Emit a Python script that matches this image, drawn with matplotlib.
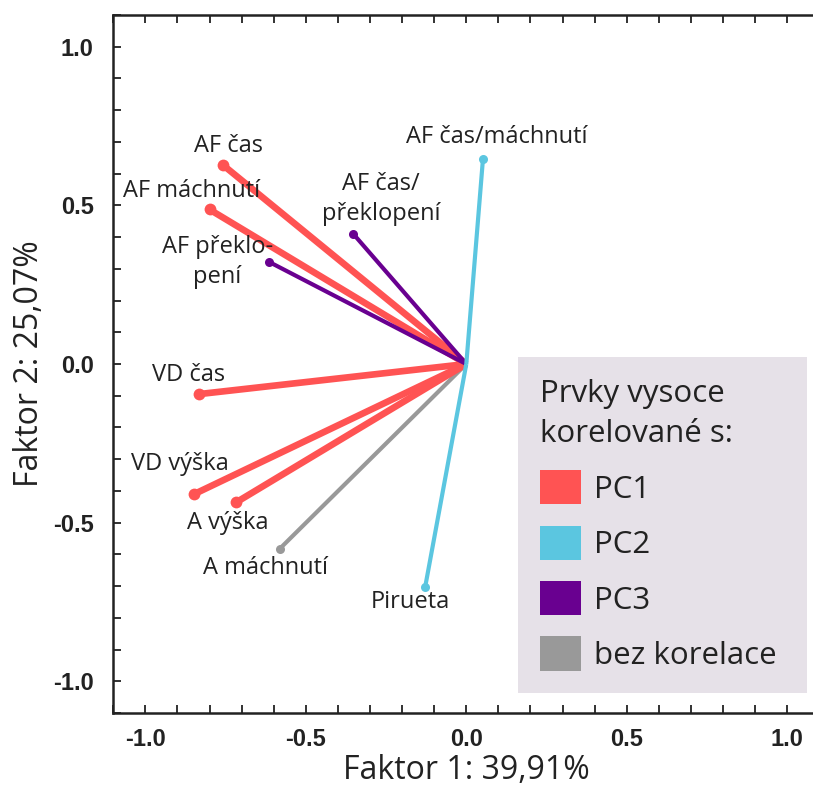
import matplotlib
matplotlib.use("Agg")
import matplotlib.pyplot as plt
from matplotlib.patches import Patch
from matplotlib.ticker import MultipleLocator

plt.rcParams["axes.unicode_minus"] = False

# ---- data ----
names = ["AF čas", "AF máchnutí", "AF překlo-\npení", "AF čas/\npřeklopení",
         "AF čas/máchnutí", "VD čas", "VD výška", "A výška", "A máchnutí", "Pirueta"]
factor1 = [-0.758, -0.800, -0.615, -0.353, 0.052, -0.834, -0.850, -0.717, -0.582, -0.128]
factor2 = [0.627, 0.487, 0.322, 0.411, 0.647, -0.095, -0.411, -0.436, -0.583, -0.702]
group = ["PC1", "PC1", "PC3", "PC3", "PC2", "PC1", "PC1", "PC1", "bez korelace", "PC2"]
legend_groups = ["PC1", "PC2", "PC3", "bez korelace"]
legend_title = "Prvky vysoce\nkorelované s:"
xlabel = "Faktor 1: 39,91%"
ylabel = "Faktor 2: 25,07%"

# ---- styles ----
colors = {"PC1": "#ff5353", "PC2": "#5bc6e0", "PC3": "#690090", "bez korelace": "#999999"}
lws = {"PC1": 4.8, "PC2": 3.0, "PC3": 3.0, "bez korelace": 3.0}
msz = {"PC1": 8.5, "PC2": 6.5, "PC3": 6.5, "bez korelace": 6.5}
label_offsets = [(4, 13.5), (-13, 13), (-37, 0), (20, 25), (10, 16),
                 (-7, 14), (-10, 22), (-6, -15), (-10, -14), (-11, -11)]
zorders = {"PC1": 2, "PC2": 4, "PC3": 3, "bez korelace": 1}

fig = plt.figure(figsize=(8.13, 7.88), dpi=100)
ax = fig.add_axes([113.3 / 813, 75 / 788, 706 / 813, 698 / 788])

for n, x, y, g, off in zip(names, factor1, factor2, group, label_offsets):
    ax.plot([0, x], [0, y], color=colors[g], lw=lws[g], solid_capstyle="butt",
            zorder=zorders[g])
    ax.plot([x], [y], marker="o", ms=msz[g], color=colors[g], mec="none",
            zorder=zorders[g])
    ax.annotate(n, (x, y), xytext=off, textcoords="offset points",
                ha="center", va="center", fontsize=17, family="Open Sans",
                color="#222222", linespacing=1.35, zorder=6)

ax.set_xlim(-1.1, 1.1)
ax.set_ylim(-1.1, 1.1)
ax.xaxis.set_major_locator(MultipleLocator(0.5))
ax.yaxis.set_major_locator(MultipleLocator(0.5))
ax.xaxis.set_minor_locator(MultipleLocator(0.1))
ax.yaxis.set_minor_locator(MultipleLocator(0.1))
ax.tick_params(which="both", direction="in", length=6, width=1.3, color="#222222",
               top=True, right=False)
ax.tick_params(axis="x", which="major", pad=11)
ax.tick_params(axis="y", which="major", pad=14)
for s in ax.spines.values():
    s.set_linewidth(1.8)
    s.set_color("#222222")
ax.spines["right"].set_visible(False)

for lbl in ax.get_xticklabels() + ax.get_yticklabels():
    lbl.set_fontfamily("Liberation Sans")
    lbl.set_fontweight("bold")
    lbl.set_fontsize(17)
    lbl.set_color("#222222")

ax.set_xlabel(xlabel, fontsize=23, family="Open Sans", color="#222222", labelpad=2)
ax.set_ylabel(ylabel, fontsize=23, family="Open Sans", color="#222222", labelpad=5)

handles = [Patch(facecolor=colors[g], edgecolor="none", label=g) for g in legend_groups]
x0 = (518 - 113.3) / 706
y1 = (713 - 357) / 698
w = (807 - 518) / 706
leg = ax.legend(handles=handles, title=legend_title, loc="upper left",
                bbox_to_anchor=(x0, y1 - 0.5, w, 0.5), mode="expand",
                frameon=True, fancybox=False, facecolor="#e6e1e8", edgecolor="none",
                framealpha=1.0, handlelength=1.32, handleheight=1.3,
                labelspacing=0.67, handletextpad=0.4, borderpad=0.7,
                borderaxespad=0, alignment="left",
                prop={"family": "Open Sans", "size": 22.5},
                title_fontproperties={"family": "Open Sans", "size": 22.5})
leg.get_title().set_color("#222222")
leg.get_title().set_linespacing(1.45)
for t in leg.get_texts():
    t.set_color("#222222")
leg.set_zorder(10)

fig.savefig("out.png", dpi=100)
